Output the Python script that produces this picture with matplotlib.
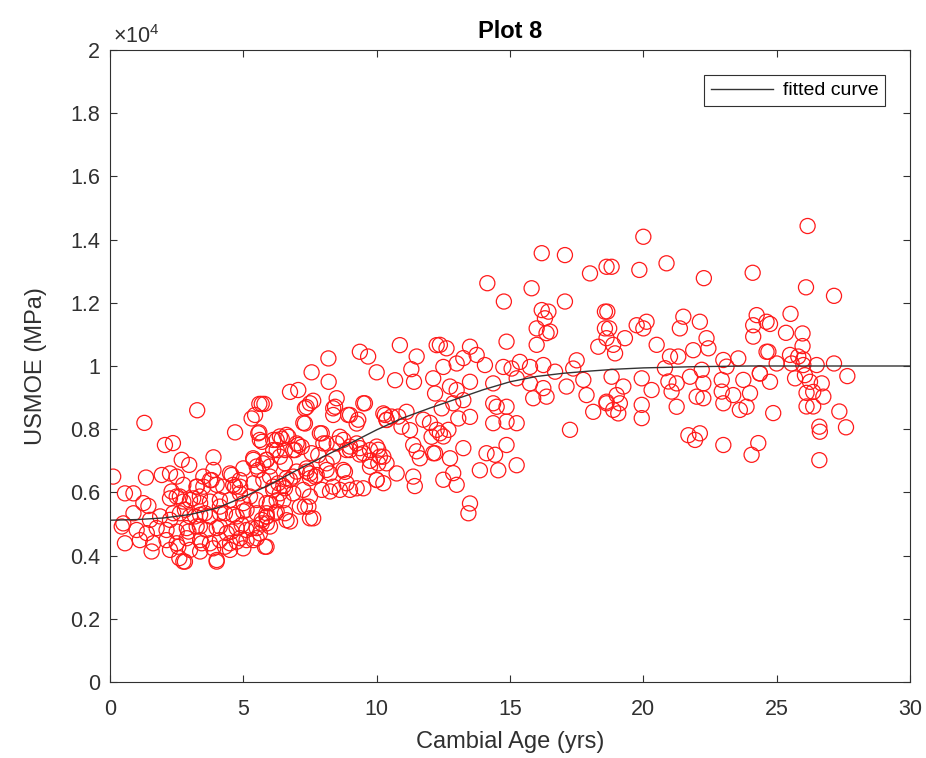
import matplotlib
matplotlib.use("Agg")
import matplotlib.pyplot as plt
from matplotlib.ticker import FuncFormatter

plt.rcParams['font.family'] = ['Liberation Sans', 'DejaVu Sans']
plt.rcParams['mathtext.fontset'] = 'custom'
plt.rcParams['mathtext.rm'] = 'Liberation Sans'

# (cambial age in yrs, USMOE in units of 1e4 MPa)
pts_0_6 = [
    (0.12, 0.650), (1.35, 0.647), (1.94, 0.655), (2.50, 0.650), (3.88, 0.671), (4.56, 0.655),
    (5.00, 0.676), (5.38, 0.703), (5.75, 0.692), (6.12, 0.734), (6.25, 0.766), (3.88, 0.711),
    (2.69, 0.703), (2.97, 0.687), (5.50, 0.682), (5.88, 0.703),
    (1.29, 0.820), (2.06, 0.750), (3.27, 0.860), (4.69, 0.790), (5.31, 0.834), (5.60, 0.880),
    (5.79, 0.880), (5.60, 0.790), (5.70, 0.760),
    (0.56, 0.597), (0.88, 0.597), (2.31, 0.603), (2.50, 0.587), (3.25, 0.618), (3.50, 0.618),
    (3.75, 0.639), (4.25, 0.618), (4.62, 0.624), (4.88, 0.618), (5.38, 0.629), (5.75, 0.639),
    (6.12, 0.608),
    (1.25, 0.566), (1.44, 0.557), (2.25, 0.581), (2.75, 0.571), (3.12, 0.581), (3.38, 0.566),
    (3.75, 0.571), (4.12, 0.555), (4.50, 0.576), (5.00, 0.566), (5.50, 0.576), (6.00, 0.566),
    (0.50, 0.502), (0.88, 0.534), (1.50, 0.513), (1.88, 0.524), (2.25, 0.513), (2.62, 0.534),
    (3.00, 0.524), (3.38, 0.529), (3.75, 0.524), (4.12, 0.534), (4.62, 0.529), (5.00, 0.540),
    (5.50, 0.534), (5.88, 0.524), (6.19, 0.534),
    (0.44, 0.492), (1.00, 0.481), (1.38, 0.471), (1.75, 0.487), (2.12, 0.481), (2.50, 0.476),
    (2.88, 0.487), (3.25, 0.492), (3.62, 0.481), (4.00, 0.487), (4.38, 0.471), (4.75, 0.487),
    (5.12, 0.481), (5.50, 0.487), (5.88, 0.502),
    (0.56, 0.439), (1.12, 0.449), (1.62, 0.439), (2.12, 0.449), (2.50, 0.439), (2.88, 0.455),
    (3.38, 0.449), (3.75, 0.439), (4.12, 0.449), (4.50, 0.439), (4.88, 0.455), (5.38, 0.449),
    (5.81, 0.428),
    (1.56, 0.413), (2.25, 0.418), (2.60, 0.392), (2.81, 0.381), (3.38, 0.413), (4.00, 0.386),
    (4.50, 0.418), (5.00, 0.423),
]

pts_2_10 = [
    (5.44, 0.845), (7.50, 0.882), (7.31, 0.866), (7.31, 0.818), (8.44, 0.871), (8.37, 0.845),
    (9.00, 0.845), (9.25, 0.818), (9.50, 0.882), (10.25, 0.850), (10.37, 0.829),
    (5.56, 0.787), (5.62, 0.766), (6.44, 0.770), (6.69, 0.776), (6.25, 0.734), (6.56, 0.734),
    (6.87, 0.734), (7.06, 0.750), (7.94, 0.787), (8.12, 0.755), (7.56, 0.724), (7.81, 0.718),
    (8.62, 0.776), (9.00, 0.734), (9.25, 0.755), (9.50, 0.724), (9.75, 0.734), (10.00, 0.745),
    (10.25, 0.713), (9.75, 0.681), (10.06, 0.692), (2.36, 0.756),
    (4.50, 0.660), (4.87, 0.639), (4.69, 0.618), (5.37, 0.708), (5.56, 0.671),
    (3.50, 0.650), (3.81, 0.639), (4.00, 0.624), (3.25, 0.618), (2.25, 0.660), (2.75, 0.624),
    (6.00, 0.650), (6.31, 0.629), (6.62, 0.645), (7.00, 0.666), (7.37, 0.666), (7.50, 0.645),
    (7.75, 0.655), (8.12, 0.671), (8.37, 0.618), (8.75, 0.671), (8.87, 0.629), (9.25, 0.613),
    (10.00, 0.639), (10.25, 0.629), (6.56, 0.613), (6.87, 0.597), (7.25, 0.608), (7.50, 0.587),
    (6.25, 0.539), (6.56, 0.534), (6.75, 0.508), (7.62, 0.518), (7.44, 0.555), (7.12, 0.555),
    (2.62, 0.587), (3.00, 0.576), (3.37, 0.587), (4.12, 0.576), (4.87, 0.597), (5.25, 0.587),
    (5.87, 0.566), (2.37, 0.534), (2.81, 0.545), (3.19, 0.524), (3.56, 0.534), (4.31, 0.534),
    (4.75, 0.524), (5.12, 0.545), (5.87, 0.534),
    (2.94, 0.476), (3.37, 0.492), (4.12, 0.492), (4.56, 0.476), (4.94, 0.497), (5.31, 0.486),
    (5.69, 0.502), (6.00, 0.492), (2.56, 0.428), (3.00, 0.418), (3.44, 0.439), (3.87, 0.423),
    (4.31, 0.428), (4.75, 0.444), (5.12, 0.449), (5.50, 0.455), (2.75, 0.381), (4.00, 0.381),
]

pts_6_12 = [
    (9.37, 1.045), (9.68, 1.030), (10.87, 1.066), (8.19, 1.024), (7.56, 0.980), (8.20, 0.950),
    (10.00, 0.980), (11.50, 1.030), (11.30, 0.990), (11.40, 0.950), (10.69, 0.955), (12.25, 1.066),
    (6.75, 0.918), (7.06, 0.924), (7.37, 0.870), (7.62, 0.890), (7.25, 0.820), (8.50, 0.898),
    (8.37, 0.866), (9.56, 0.882), (5.69, 0.880), (8.93, 0.845), (9.31, 0.830),
    (10.31, 0.845), (10.56, 0.840), (10.81, 0.840), (11.12, 0.855), (10.37, 0.830),
    (10.93, 0.808), (11.25, 0.797), (11.75, 0.830), (12.00, 0.820), (12.06, 0.776), (12.19, 0.724),
    (11.62, 0.708), (11.37, 0.750), (11.50, 0.730), (7.87, 0.787), (8.00, 0.755), (8.50, 0.755),
    (9.00, 0.745), (9.37, 0.740), (9.37, 0.720), (9.75, 0.700), (10.12, 0.713), (10.37, 0.692),
    (8.81, 0.665), (10.06, 0.735), (10.00, 0.640), (10.75, 0.660), (11.37, 0.650), (11.43, 0.620),
    (9.50, 0.613), (9.00, 0.608), (8.62, 0.608), (8.25, 0.603), (7.94, 0.608),
    (7.50, 0.660), (7.69, 0.650), (7.37, 0.676), (6.87, 0.650), (6.75, 0.640), (6.50, 0.620),
    (6.50, 0.575), (6.25, 0.575), (6.62, 0.512), (7.50, 0.518), (7.31, 0.555),
    (5.87, 0.523), (5.69, 0.513), (5.87, 0.428), (5.62, 0.470),
    (6.12, 0.766), (6.37, 0.777), (6.62, 0.782), (7.00, 0.755), (6.94, 0.734), (7.19, 0.744),
    (5.87, 0.703), (6.00, 0.682), (6.37, 0.713), (6.56, 0.692), (8.12, 0.692), (8.37, 0.713),
    (8.25, 0.660), (8.75, 0.766), (8.87, 0.734), (6.12, 0.618), (6.37, 0.597),
]

pts_12_18 = [
    (16.19, 1.357), (17.06, 1.351), (14.15, 1.262), (15.81, 1.246), (14.77, 1.204), (17.06, 1.204),
    (18.00, 1.293), (18.62, 1.314), (16.19, 1.177), (16.44, 1.172), (16.31, 1.151),
    (16.00, 1.119), (16.50, 1.109), (16.37, 1.104), (16.00, 1.067), (18.56, 1.172), (18.56, 1.119),
    (18.31, 1.061), (14.87, 1.077), (12.37, 1.067), (12.62, 1.056), (13.50, 1.061), (13.75, 1.035),
    (13.25, 1.025), (12.50, 0.997), (13.00, 1.008), (14.06, 1.003),
    (14.75, 0.997), (15.06, 0.992), (15.37, 1.013), (15.75, 0.997), (16.25, 1.003), (16.69, 0.982),
    (17.37, 0.992), (17.50, 1.018), (12.12, 0.961), (12.75, 0.935), (13.00, 0.924), (13.50, 0.950),
    (14.37, 0.945), (15.25, 0.961), (15.75, 0.945), (16.25, 0.930), (17.12, 0.935), (17.75, 0.956),
    (17.87, 0.908), (16.37, 0.903), (15.87, 0.898), (12.19, 0.913), (12.44, 0.866), (12.87, 0.882),
    (13.25, 0.892), (14.37, 0.882), (14.50, 0.871), (14.87, 0.871), (13.50, 0.839), (13.06, 0.834),
    (14.37, 0.819), (14.87, 0.824), (15.25, 0.819), (18.12, 0.855), (18.62, 0.882), (17.25, 0.798),
    (12.25, 0.798), (12.50, 0.777), (12.37, 0.787), (12.69, 0.798), (12.12, 0.724), (12.75, 0.708),
    (13.25, 0.740), (14.12, 0.724), (14.44, 0.719), (14.87, 0.750), (13.87, 0.670), (14.56, 0.670),
    (15.25, 0.686), (12.50, 0.640), (13.00, 0.624), (12.87, 0.661), (13.50, 0.565), (13.44, 0.534),
]

pts_18_24 = [
    (20.00, 1.409), (18.81, 1.314), (19.85, 1.304), (20.87, 1.325), (22.27, 1.278), (24.10, 1.295),
    (18.65, 1.172), (18.72, 1.119), (19.75, 1.129), (20.12, 1.140), (20.00, 1.119),
    (21.50, 1.156), (21.37, 1.119), (22.12, 1.140), (24.25, 1.161), (24.12, 1.129), (24.62, 1.140),
    (24.12, 1.093), (18.62, 1.088), (18.87, 1.067), (19.31, 1.088), (18.94, 1.040), (20.50, 1.067),
    (21.00, 1.030), (21.31, 1.030), (21.87, 1.050), (22.37, 1.088), (22.44, 1.056),
    (23.00, 1.019), (23.56, 1.024), (23.12, 0.998), (24.62, 1.045),
    (18.81, 0.966), (19.94, 0.961), (20.81, 0.993), (20.94, 0.951), (21.25, 0.945), (21.75, 0.966),
    (22.19, 0.988), (22.25, 0.945), (22.94, 0.956), (23.75, 0.956), (24.37, 0.977),
    (19.25, 0.935), (19.00, 0.908), (19.12, 0.882), (18.62, 0.887), (18.87, 0.861), (19.06, 0.850),
    (19.94, 0.877), (19.94, 0.835), (20.31, 0.924), (21.06, 0.919), (21.25, 0.871),
    (22.00, 0.903), (22.25, 0.898), (22.94, 0.919), (23.00, 0.882), (23.37, 0.908), (23.62, 0.861),
    (23.87, 0.871), (24.00, 0.914), (21.69, 0.781), (21.94, 0.766), (22.12, 0.787),
    (23.00, 0.750), (24.31, 0.756), (24.06, 0.719),
]

pts_24_30 = [
    (26.16, 1.443), (26.10, 1.249), (27.15, 1.222), (25.52, 1.165), (24.75, 1.133),
    (25.35, 1.105), (25.97, 1.103), (25.97, 1.063), (24.69, 1.045), (25.50, 1.035), (25.81, 1.030),
    (26.00, 1.021), (25.00, 1.008), (25.56, 1.008), (26.00, 1.003), (26.50, 1.003), (27.15, 1.008),
    (24.37, 0.976), (24.75, 0.950), (25.69, 0.961), (26.06, 0.971), (26.25, 0.950), (26.69, 0.945),
    (27.65, 0.968), (26.12, 0.915), (26.37, 0.918), (26.75, 0.903), (26.12, 0.872), (26.37, 0.872),
    (24.87, 0.851), (27.35, 0.856), (27.60, 0.806), (26.60, 0.808), (26.62, 0.792), (26.60, 0.702),
]

curve_age = [0, 1, 2, 3, 4, 5, 6, 7, 8, 9, 10, 11, 12, 13, 14, 15, 16, 17, 18, 19, 20, 22, 24, 26, 28, 30]
curve_moe = [0.512, 0.514, 0.519, 0.530, 0.550, 0.585, 0.625, 0.670, 0.713, 0.755, 0.798, 0.836,
             0.867, 0.896, 0.925, 0.950, 0.967, 0.977, 0.984, 0.990, 0.994, 0.998, 1.000, 1.000,
             1.000, 1.000]

DARK = '#303030'


def main():
    pts = pts_0_6 + pts_2_10 + pts_6_12 + pts_12_18 + pts_18_24 + pts_24_30
    age = [p[0] for p in pts]
    moe = [p[1] for p in pts]

    fig = plt.figure(figsize=(9.26, 7.58), dpi=100)
    ax = fig.add_axes([110 / 926, 1 - 682 / 758, 800 / 926, 632 / 758])

    ax.scatter(age, moe, s=118, facecolors='none', edgecolors='#ff1a1a', linewidths=0.9, zorder=2)
    ax.plot(curve_age, curve_moe, color='#333333', lw=1.0, label='fitted curve', zorder=3)

    ax.set_xlim(0, 30)
    ax.set_ylim(0, 2)
    ax.set_xticks(range(0, 31, 5))
    ax.set_yticks([i * 0.2 for i in range(11)])
    ax.yaxis.set_major_formatter(FuncFormatter(lambda v, _: f"{v:g}"))
    ax.tick_params(direction='in', top=True, right=True, length=5, width=0.8,
                   colors=DARK, labelsize=15.5)
    ax.tick_params(axis='x', pad=12)
    ax.tick_params(axis='y', pad=7)
    for s in ax.spines.values():
        s.set_color(DARK)
        s.set_linewidth(0.8)

    ax.set_xlabel('Cambial Age (yrs)', fontsize=17, color=DARK, labelpad=8)
    ax.set_ylabel('USMOE (MPa)', fontsize=17, color=DARK, labelpad=17)
    ax.set_title('Plot 8', fontsize=17, fontweight='bold', color='black', pad=9)
    fig.text(113 / 926, 1 - 37 / 758, r'$\mathregular{\times10^{4}}$', fontsize=15.5,
             color=DARK, va='center', ha='left')

    leg = ax.legend(loc='upper right', bbox_to_anchor=(885 / 926, 1 - 75 / 758),
                    bbox_transform=fig.transFigure, borderaxespad=0, fancybox=False,
                    edgecolor=DARK, fontsize=14, handlelength=3.2, handletextpad=0.5,
                    borderpad=0.35, framealpha=1)
    leg.get_frame().set_linewidth(0.8)

    fig.savefig('out.png', dpi=100)


if __name__ == "__main__":
    main()
